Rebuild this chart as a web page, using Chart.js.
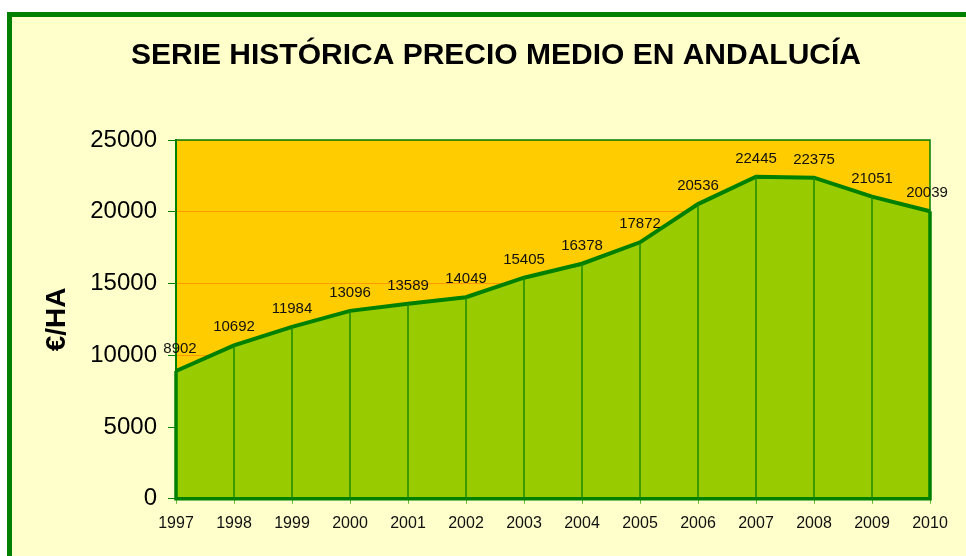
<!DOCTYPE html>
<html>
<head>
<meta charset="utf-8">
<script src="https://cdn.jsdelivr.net/npm/chart.js@4.4.1/dist/chart.umd.min.js"></script>
<style>
  html, body { margin: 0; padding: 0; background: #ffffff; overflow: hidden; }
  #frame {
    position: absolute; left: 7px; top: 12px; width: 980px; height: 570px;
    background: #ffffcc; border: 5px solid #008000;
  }
  #wrap { position: absolute; left: 0; top: 0; width: 966px; height: 556px; }
</style>
</head>
<body>
<div id="frame"></div>
<div id="wrap"><canvas id="precioChart" width="966" height="556"></canvas></div>
<script>
// Serie histórica precio medio (€/ha)
const years = ['1997', '1998', '1999', '2000', '2001', '2002', '2003',
               '2004', '2005', '2006', '2007', '2008', '2009', '2010'];
const precios = [8902, 10692, 11984, 13096, 13589, 14049, 15405,
                 16378, 17872, 20536, 22445, 22375, 21051, 20039];
const yTicks = [0, 5000, 10000, 15000, 20000, 25000];

// fondo naranja del área de trazado
const plotBg = {
    id: 'plotBg',
    beforeDraw(chart) {
        const { ctx, chartArea: a } = chart;
        ctx.save();
        ctx.fillStyle = '#ffcc00';
        ctx.fillRect(a.left, a.top, a.right - a.left, a.bottom - a.top);
        ctx.restore();
    }
};

// líneas verticales bajo cada punto, bordes y etiquetas
const dropLines = {
    id: 'dropLines',
    afterDatasetsDraw(chart) {
        const { ctx, chartArea: a } = chart;
        const pts = chart.getDatasetMeta(0).data;
        const yBase = chart.scales.y.getPixelForValue(0);
        ctx.save();
        // marco fino del área
        ctx.strokeStyle = '#008000';
        ctx.lineWidth = 1.5;
        ctx.strokeRect(a.left, a.top, a.right - a.left, a.bottom - a.top);
        ctx.lineWidth = 1.5;
        ctx.strokeStyle = '#1f8a00';
        pts.forEach((p, i) => {
            if (i === 0 || i === pts.length - 1) return;
            ctx.beginPath();
            ctx.moveTo(p.x, p.y);
            ctx.lineTo(p.x, yBase);
            ctx.stroke();
        });
        // bordes gruesos del polígono
        ctx.strokeStyle = '#008000';
        ctx.lineWidth = 3.5;
        const first = pts[0], last = pts[pts.length - 1];
        ctx.beginPath();
        ctx.moveTo(first.x, first.y);
        ctx.lineTo(first.x, yBase);
        ctx.lineTo(last.x, yBase);
        ctx.lineTo(last.x, last.y);
        ctx.stroke();
        // etiquetas de valor
        ctx.fillStyle = '#111111';
        ctx.font = '15px "Liberation Sans", Arial, sans-serif';
        ctx.textAlign = 'center';
        ctx.textBaseline = 'middle';
        pts.forEach((p, i) => {
            let dx = 0, dy = -18;
            if (i === 0) { dx = 4; dy = -22; }
            if (i === pts.length - 1) { dx = -3; }
            ctx.fillText(String(precios[i]), p.x + dx, p.y + dy);
        });
        ctx.restore();
    }
};

new Chart(document.getElementById('precioChart'), {
    type: 'line',
    data: {
        labels: years,
        datasets: [{
            label: 'Precio medio',
            data: precios,
            borderColor: '#008000',
            borderWidth: 4,
            backgroundColor: '#99cc00',
            fill: 'origin',
            pointRadius: 0,
            tension: 0
        }]
    },
    options: {
        responsive: false,
        animation: false,
        layout: { padding: { left: 62, right: 36, top: 38, bottom: 13 } },
        plugins: {
            legend: { display: false },
            tooltip: { enabled: false },
            title: {
                display: true,
                text: 'SERIE HISTÓRICA PRECIO MEDIO EN ANDALUCÍA',
                color: '#000000',
                font: { family: '"Liberation Sans", Arial, sans-serif', size: 30, weight: 'bold' },
                padding: { top: 0, bottom: 66 }
            }
        },
        scales: {
            x: {
                offset: false,
                grid: { drawOnChartArea: false, tickLength: 5, tickColor: '#66bb33' },
                border: { color: '#008000', width: 3 },
                ticks: {
                    color: '#111111',
                    padding: 10,
                    maxRotation: 0,
                    autoSkip: false,
                    font: { family: '"Liberation Sans", Arial, sans-serif', size: 16 }
                }
            },
            y: {
                min: 0,
                max: 25000,
                afterFit(scale) { scale.width = 114; },
                afterBuildTicks(scale) { scale.ticks = yTicks.map(v => ({ value: v })); },
                grid: {
                    color: '#ff9900',
                    lineWidth: 1,
                    tickLength: 8,
                    tickColor: '#008000'
                },
                border: { color: '#008000', width: 2 },
                ticks: {
                    color: '#000000',
                    padding: 11,
                    callback: v => String(v),
                    font: { family: '"Liberation Sans", Arial, sans-serif', size: 24 }
                },
                title: {
                    display: true,
                    text: '€/HA',
                    color: '#000000',
                    font: { family: '"Liberation Sans", Arial, sans-serif', size: 28, weight: 'bold' },
                    padding: { top: -22 }
                }
            }
        }
    },
    plugins: [plotBg, dropLines]
});
</script>
</body>
</html>
